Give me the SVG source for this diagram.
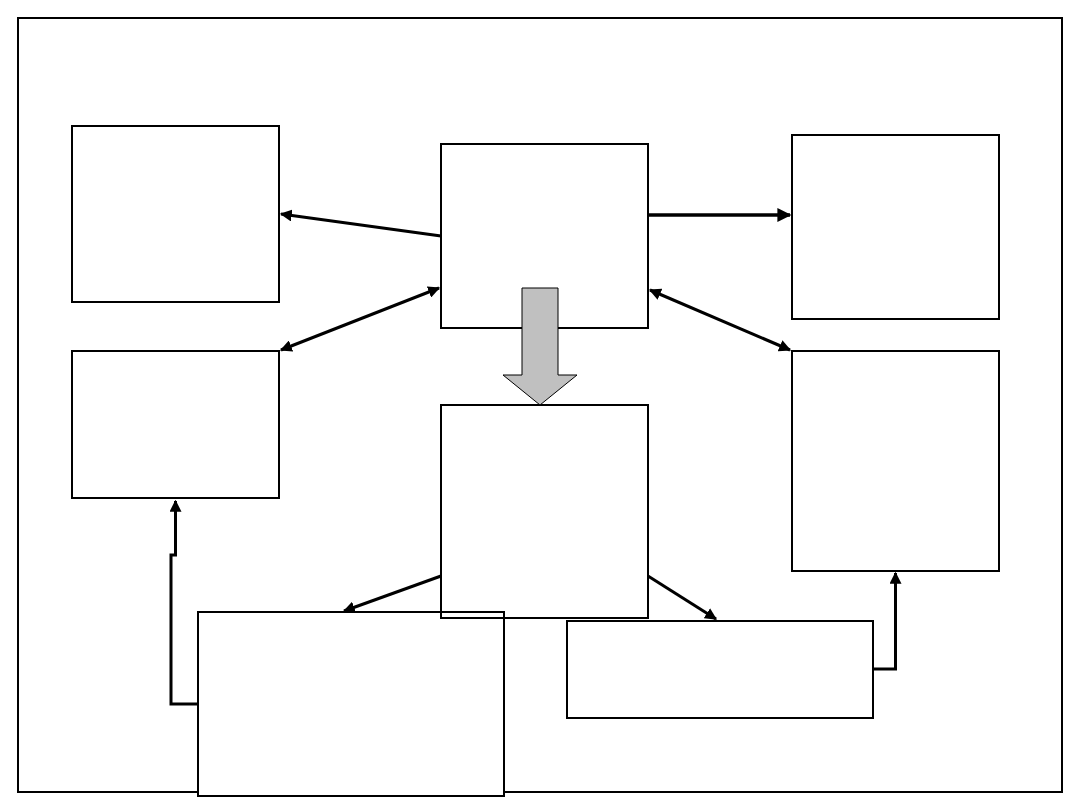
<svg xmlns="http://www.w3.org/2000/svg" width="1080" height="810" viewBox="0 0 1080 810">
<style>
.box{fill:#fff;stroke:#000;stroke-width:2}
.boxo{fill:none;stroke:#000;stroke-width:2}
.c{fill:none;stroke:#000;stroke-width:3}
</style>
<defs>
<marker id="ah" viewBox="0 0 10 10" refX="9" refY="5" markerWidth="4" markerHeight="4" orient="auto-start-reverse" markerUnits="strokeWidth">
<path d="M0,0 L10,5 L0,10 z" fill="#000"/>
</marker>
</defs>
<rect x="0" y="0" width="1080" height="810" fill="#fff"/>
<rect id="frame" x="18" y="18" width="1044" height="774" fill="none" stroke="#000" stroke-width="2"/>
<g id="n-topleft"><rect class="box" x="72" y="126" width="207" height="176"/></g>
<g id="n-center"><rect class="box" x="441" y="144" width="207" height="184"/></g>
<g id="n-topright"><rect class="box" x="792" y="135" width="207" height="184"/></g>
<g id="n-midleft"><rect class="box" x="72" y="351" width="207" height="147"/></g>
<g id="n-midright"><rect class="box" x="792" y="351" width="207" height="220"/></g>
<g id="n-bottomleft"><rect class="box" x="198" y="612" width="306" height="184"/></g>
<g id="n-bottomright"><rect class="box" x="567" y="621" width="306" height="97"/></g>
<g id="n-middle"><rect class="boxo" x="441" y="405" width="207" height="213"/></g>
<g id="connectors">
<line class="c" x1="441" y1="236" x2="281" y2="214" marker-end="url(#ah)"/>
<line class="c" x1="281" y1="350" x2="439" y2="288" marker-start="url(#ah)" marker-end="url(#ah)"/>
<line class="c" x1="648" y1="215" x2="790" y2="215" marker-end="url(#ah)" style="stroke-width:3.5"/>
<line class="c" x1="650" y1="290" x2="790" y2="350" marker-start="url(#ah)" marker-end="url(#ah)"/>
<path d="M522,288 H558 V375 H577 L540,405 L503,375 H522 Z" fill="#c0c0c0" stroke="#000" stroke-width="1"/>
<line class="c" x1="441" y1="576" x2="344" y2="611" marker-end="url(#ah)"/>
<line class="c" x1="648" y1="576" x2="716" y2="619" marker-end="url(#ah)"/>
<path class="c" d="M198,704 H171 V555 H175.5 V501" marker-end="url(#ah)"/>
<path class="c" d="M873,669 H895.5 V573" marker-end="url(#ah)"/>
</g>
</svg>
